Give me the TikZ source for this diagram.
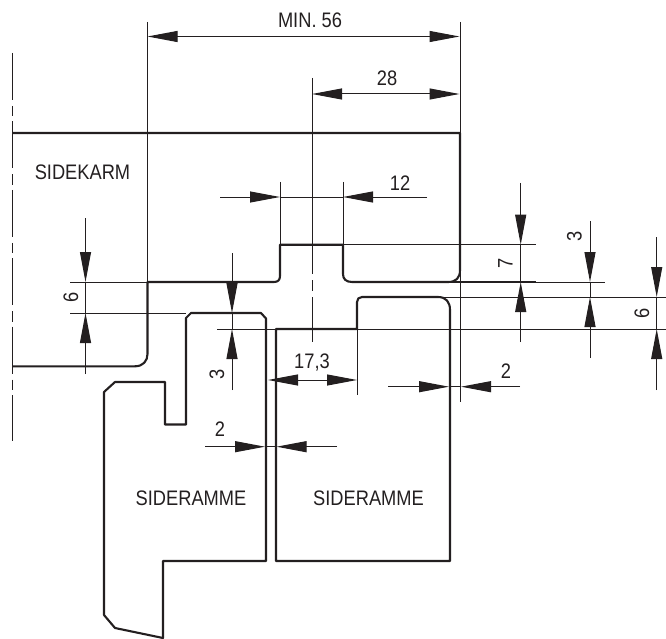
\documentclass[tikz,border=0pt]{standalone}
\usepackage{fontspec}
\setmainfont[FakeStretch=0.87]{Liberation Sans}
\usetikzlibrary{arrows.meta}
\definecolor{ink}{HTML}{231F20}
\tikzset{
  outline/.style={draw=ink,line width=2.1pt,line join=round},
  dim/.style={draw=ink,line width=1pt},
  dimarrow/.style={dim,-{Triangle[length=30pt,width=11pt,sep=0pt,fill=ink]}},
  lbl/.style={text=ink,font=\fontsize{21}{21}\selectfont,inner sep=0pt},
  vlbl/.style={lbl,rotate=90},
}
\begin{document}
\begin{tikzpicture}[x=1pt,y=-1pt]
\useasboundingbox (0,0) rectangle (666,639);
% centre lines
\draw[dim,dash pattern=on 47pt off 6pt on 10.4pt off 5pt] (12,53) -- (12,441);
\draw[dim] (312,78) -- (312,274);
\draw[dim] (312,280) -- (312,291);
\draw[dim] (312,297) -- (312,342);
% extension lines
\draw[dim] (147.5,22) -- (147.5,282);
\draw[dim] (460,22) -- (460,402);
\draw[dim] (280,182) -- (280,245);
\draw[dim] (343,182) -- (343,245);
\draw[dim] (343,244.7) -- (536,244.7);
\draw[dim] (460,282) -- (605,282);
\draw[outline,line width=1.6pt] (448,282) -- (536,282);
\draw[dim] (440,297) -- (666,297);
\draw[dim] (217,329) -- (666,329);
\draw[dim] (70,282) -- (148,282);
\draw[dim] (70,313) -- (186,313);
\draw[dim] (357,329) -- (357,395);
% outlines
\draw[outline] (12,133) -- (460,133) -- (460,270)
  .. controls (460,278) and (456,282) .. (448,282) -- (352,282)
  .. controls (346,282) and (343,279) .. (343,274) -- (343,244.7) -- (280,244.7) -- (280,276)
  .. controls (280,280) and (278,282) .. (274,282) -- (147.5,282) -- (147.5,354)
  .. controls (147.5,361) and (143,366.3) .. (135,366.3) -- (12,366.3);
\draw[outline] (276,329) -- (357,329) -- (357,302)
  .. controls (357,299) and (359,297) .. (362,297) -- (438,297)
  .. controls (446,297) and (450,302) .. (450,310) -- (450,561) -- (276,561) -- cycle;
\draw[outline] (266,318.5) -- (266,561) -- (163,561) -- (163,638) -- (115,628) -- (104,615) -- (104,392) -- (115,382) -- (165,382) -- (165,424.5) -- (186,424.5) -- (186,318) -- (191,313) -- (261,313) -- cycle;
% dimensions
\draw[dimarrow] (310,36.5) -- (147.5,36.5);
\draw[dimarrow] (310,36.5) -- (459.5,36.5);
\draw[dimarrow] (385,94) -- (312,94);
\draw[dimarrow] (385,94) -- (459.5,94);
\draw[dimarrow] (220,197) -- (280,197);
\draw[dim] (280,197) -- (343,197);
\draw[dimarrow] (427,197) -- (343,197);
\draw[dimarrow] (520.7,183) -- (520.7,244.7);
\draw[dimarrow] (520.7,342) -- (520.7,282);
\draw[dim] (520.7,244.7) -- (520.7,282);
\draw[dimarrow] (590,221) -- (590,282);
\draw[dimarrow] (590,358) -- (590,297);
\draw[dim] (590,282) -- (590,297);
\draw[dimarrow] (656.7,237) -- (656.7,297);
\draw[dimarrow] (656.7,390) -- (656.7,329);
\draw[dim] (656.7,297) -- (656.7,329);
\draw[dimarrow] (232,253) -- (232,313);
\draw[dimarrow] (232,390) -- (232,329);
\draw[dim] (232,313) -- (232,329);
\draw[dimarrow] (85.5,218) -- (85.5,282);
\draw[dimarrow] (85.5,374) -- (85.5,313);
\draw[dim] (85.5,282) -- (85.5,313);
\draw[dimarrow] (312,380) -- (268,380);
\draw[dimarrow] (312,380) -- (357,380);
\draw[dimarrow] (205,446.7) -- (265,446.7);
\draw[dimarrow] (337,446.7) -- (276.5,446.7);
\draw[dim] (265,446.7) -- (276.5,446.7);
\draw[dimarrow] (388,386.7) -- (449,386.7);
\draw[dimarrow] (520,386.7) -- (461,386.7);
\draw[dim] (449,386.7) -- (461,386.7);
% labels
\node[lbl] (tmin) at (310,20.5) {MIN. 56};
\node[lbl] (t28) at (387,78.5) {28};
\node[lbl] (t12) at (400,183.5) {12};
\node[lbl] (t173) at (312,362.5) {17,3};
\node[lbl] (t2a) at (220,429.5) {2};
\node[lbl] (t2b) at (506,371.5) {2};
\node[vlbl] (t7) at (505.5,263) {7};
\node[vlbl] (t3a) at (574.5,236) {3};
\node[vlbl] (t6a) at (642,313) {6};
\node[vlbl] (t3b) at (217,374) {3};
\node[vlbl] (t6b) at (71,297) {6};
\node[lbl] (karm) at (82.5,172) {SIDEKARM};
\node[lbl] (rl) at (191,498) {SIDERAMME};
\node[lbl] (rr) at (368.5,498) {SIDERAMME};
\end{tikzpicture}
\end{document}
